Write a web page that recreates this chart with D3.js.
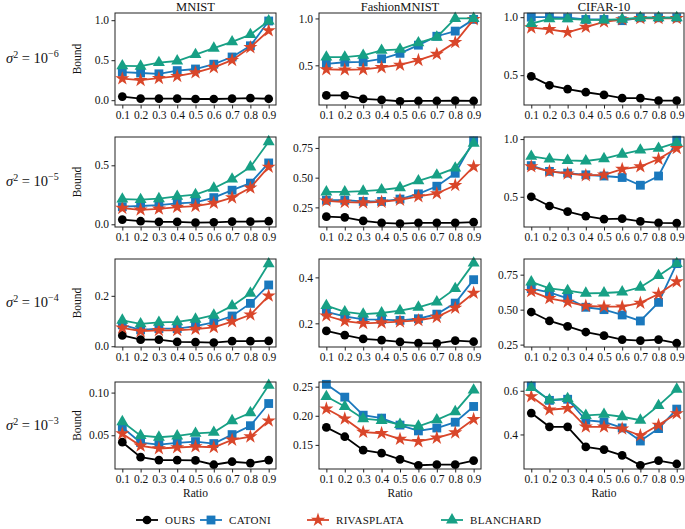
<!DOCTYPE html>
<html><head><meta charset="utf-8">
<script src="https://cdn.jsdelivr.net/npm/d3@7"></script>
<style>body{margin:0;background:#fff}svg{display:block}text{font-family:"Liberation Serif","DejaVu Serif",serif;fill:#111}</style>
</head><body><svg id="c" width="685" height="529"></svg>
<script>
const ratios = [0.1,0.2,0.3,0.4,0.5,0.6,0.7,0.8,0.9];
const datasets = ["MNIST","FashionMNIST","CIFAR-10"];
const sigmaExps = ["−6","−5","−4","−3"];
const methods = ["OURS","CATONI","RIVASPLATA","BLANCHARD"];

// values[row][col][method]
const ours = [
 [[0.045,0.02,0.02,0.02,0.015,0.015,0.02,0.025,0.018],[0.179,0.18,0.142,0.131,0.117,0.12,0.12,0.124,0.12],[0.49,0.413,0.38,0.353,0.33,0.302,0.302,0.28,0.28]],
 [[0.04,0.026,0.02,0.02,0.014,0.017,0.023,0.023,0.026],[0.172,0.166,0.137,0.12,0.114,0.12,0.12,0.12,0.126],[0.5,0.42,0.372,0.333,0.307,0.31,0.286,0.274,0.271]],
 [[0.043,0.026,0.026,0.017,0.016,0.014,0.02,0.02,0.021],[0.167,0.149,0.132,0.127,0.119,0.114,0.113,0.125,0.12],[0.483,0.419,0.381,0.34,0.314,0.286,0.279,0.286,0.26]],
 [[0.0419,0.0244,0.0209,0.0209,0.0205,0.0155,0.019,0.0174,0.0209],[0.180,0.164,0.141,0.136,0.125,0.115,0.116,0.116,0.123],[0.498,0.435,0.435,0.343,0.331,0.304,0.259,0.280,0.265]]
];
const catoni = [
 [[0.35,0.34,0.33,0.37,0.39,0.45,0.54,0.68,0.99],[0.515,0.533,0.536,0.57,0.628,0.715,0.81,0.865,0.99],[1.0,1.0,0.995,0.98,0.98,0.97,0.995,0.995,0.995]],
 [[0.149,0.155,0.163,0.177,0.186,0.226,0.289,0.349,0.52],[0.31,0.31,0.30,0.30,0.32,0.364,0.428,0.537,0.81],[0.77,0.72,0.705,0.69,0.68,0.667,0.60,0.68,0.99]],
 [[0.085,0.065,0.07,0.07,0.08,0.095,0.12,0.17,0.243],[0.25,0.23,0.217,0.216,0.213,0.22,0.24,0.288,0.39],[0.65,0.624,0.581,0.517,0.5,0.462,0.419,0.552,0.829]],
 [[0.0593,0.0415,0.0391,0.0411,0.0426,0.0403,0.0508,0.0612,0.0872],[0.254,0.232,0.201,0.196,0.184,0.174,0.179,0.189,0.216],[0.621,0.556,0.561,0.465,0.457,0.43,0.37,0.427,0.516]]
];
const rivasplata = [
 [[0.27,0.25,0.275,0.30,0.345,0.41,0.50,0.66,0.87],[0.456,0.453,0.456,0.478,0.504,0.555,0.62,0.745,0.99],[0.91,0.895,0.87,0.915,0.96,0.98,0.99,0.99,0.99]],
 [[0.137,0.123,0.131,0.146,0.154,0.18,0.226,0.309,0.486],[0.305,0.294,0.29,0.296,0.313,0.342,0.367,0.436,0.593],[0.762,0.72,0.70,0.685,0.69,0.74,0.762,0.827,0.92]],
 [[0.073,0.06,0.063,0.063,0.068,0.075,0.098,0.125,0.2],[0.233,0.21,0.2,0.203,0.207,0.213,0.227,0.267,0.332],[0.631,0.581,0.555,0.526,0.521,0.521,0.548,0.612,0.7]],
 [[0.0519,0.0376,0.0345,0.0357,0.0368,0.036,0.0446,0.0484,0.067],[0.212,0.195,0.172,0.170,0.160,0.156,0.162,0.171,0.194],[0.574,0.513,0.52,0.435,0.435,0.426,0.395,0.443,0.496]]
];
const blanchard = [
 [[0.43,0.425,0.47,0.49,0.57,0.65,0.73,0.82,0.99],[0.588,0.588,0.606,0.66,0.67,0.74,0.8,1.0,1.0],[0.945,0.985,0.985,0.976,0.976,0.982,0.995,0.995,0.995]],
 [[0.214,0.209,0.217,0.237,0.251,0.306,0.383,0.486,0.70],[0.38,0.38,0.386,0.397,0.415,0.473,0.522,0.58,0.79],[0.85,0.827,0.815,0.81,0.83,0.869,0.905,0.92,0.97]],
 [[0.103,0.089,0.095,0.097,0.107,0.123,0.16,0.21,0.327],[0.277,0.25,0.24,0.245,0.255,0.27,0.293,0.351,0.462],[0.698,0.652,0.636,0.617,0.619,0.626,0.66,0.743,0.829]],
 [[0.0659,0.0496,0.0477,0.0492,0.0523,0.0535,0.067,0.0764,0.1085],[0.233,0.216,0.195,0.192,0.185,0.182,0.193,0.207,0.244],[0.615,0.558,0.564,0.487,0.492,0.481,0.465,0.532,0.607]]
];
const yTicks = [
 [[0.0,0.5,1.0],[0.5,1.0],[0.5,1.0]],
 [[0.0,0.5],[0.25,0.50,0.75],[0.5,1.0]],
 [[0.0,0.2],[0.2,0.4],[0.25,0.50,0.75]],
 [[0.05,0.10],[0.15,0.20,0.25],[0.4,0.6]]
];
const yTickFmt = [
 [".1f",".1f",".1f"],
 [".1f",".2f",".1f"],
 [".1f",".1f",".2f"],
 [".2f",".2f",".1f"]
];
const yDomains = [
 [[-0.06,1.09],[0.077,1.058],[0.243,1.036]],
 [[-0.023,0.74],[0.085,0.842],[0.238,1.018]],
 [[-0.003,0.346],[0.097,0.48],[0.233,0.862]],
 [[0.0105,0.1124],[0.1086,0.258],[0.242,0.64]]
];

const series = [ours,catoni,rivasplata,blanchard];
const colors = ["#000000","#1a78bd","#d9462a","#17a085"];
const symbols = [d3.symbolCircle,d3.symbolSquare,d3.symbolStar,d3.symbolTriangle];
const symSizes = [60,78,62,62];

const colX = [[115,276],[319,481],[524,684]];
const rowY = [[13,105],[137,227],[259,347],[382,469]];

const svg = d3.select("#c");

function drawMarker(g, i, x, y){
  g.append("path").attr("d", d3.symbol(symbols[i], symSizes[i])())
   .attr("transform", `translate(${x},${y})`).attr("fill", colors[i]);
}

for (let r=0;r<4;r++){
  for (let c=0;c<3;c++){
    const [x0,x1] = colX[c], [y0,y1] = rowY[r];
    const x = d3.scaleLinear().domain([0.06,0.94]).range([x0,x1]);
    const y = d3.scaleLinear().domain(yDomains[r][c]).range([y1,y0]);
    const g = svg.append("g");
    const clip = "clip"+r+c;
    g.append("clipPath").attr("id",clip).append("rect").attr("x",x0-8).attr("y",y0-8).attr("width",x1-x0+16).attr("height",y1-y0+16);
    const ax = g.append("g").attr("transform",`translate(0,${y1})`)
      .call(d3.axisBottom(x).tickValues(ratios).tickFormat(d3.format(".1f")).tickSize(3.5).tickPadding(2.5));
    const ay = g.append("g").attr("transform",`translate(${x0},0)`)
      .call(d3.axisLeft(y).tickValues(yTicks[r][c]).tickFormat(d3.format(yTickFmt[r][c])).tickSize(3.5).tickPadding(2.5));
    [ax,ay].forEach(a=>{a.select(".domain").remove();a.selectAll("text").style("font-size","11.5px").style("font-family",'"Liberation Serif",serif').attr("fill","#111");a.selectAll("line").attr("stroke","#222");});
    const lg = g.append("g").attr("clip-path",`url(#${clip})`);
    series.forEach((s,i)=>{
      const vals = s[r][c];
      lg.append("path").datum(vals)
        .attr("d", d3.line().x((d,k)=>x(ratios[k])).y(d=>y(d)))
        .attr("fill","none").attr("stroke",colors[i]).attr("stroke-width",1.8);
      vals.forEach((v,k)=>drawMarker(lg,i,x(ratios[k]),y(v)));
    });
    g.append("rect").attr("x",x0).attr("y",y0).attr("width",x1-x0).attr("height",y1-y0)
      .attr("fill","none").attr("stroke","#222").attr("stroke-width",1);
    if (r===0) g.append("text").attr("x",(x0+x1)/2).attr("y",y0-2).attr("text-anchor","middle").style("font-size","12.5px").text(datasets[c]);
    if (r===3) g.append("text").attr("x",(x0+x1)/2).attr("y",y1+28).attr("text-anchor","middle").style("font-size","11.5px").text("Ratio");
    if (c===0){
      g.append("text").attr("transform",`translate(${x0-34},${(y0+y1)/2}) rotate(-90)`).attr("text-anchor","middle").style("font-size","11.5px").text("Bound");
      const t = g.append("text").attr("x",6).attr("y",(y0+y1)/2+4).style("font-size","14.5px");
      t.append("tspan").style("font-style","italic").text("σ");
      t.append("tspan").attr("dy",-5).style("font-size","10px").text("2");
      t.append("tspan").attr("dy",5).text(" = 10");
      t.append("tspan").attr("dy",-6).style("font-size","10px").text(sigmaExps[r]);
    }
  }
}

// legend
const legX = [147,211,318,452];
const legY = 520;
methods.forEach((m,i)=>{
  const g = svg.append("g");
  g.append("line").attr("x1",legX[i]-11).attr("x2",legX[i]+11).attr("y1",legY).attr("y2",legY).attr("stroke",colors[i]).attr("stroke-width",1.8);
  drawMarker(g,i,legX[i],legY);
  g.append("text").attr("x",legX[i]+18).attr("y",legY+4).style("font-size","11px").style("letter-spacing","0.3px").text(m);
});
</script></body></html>
